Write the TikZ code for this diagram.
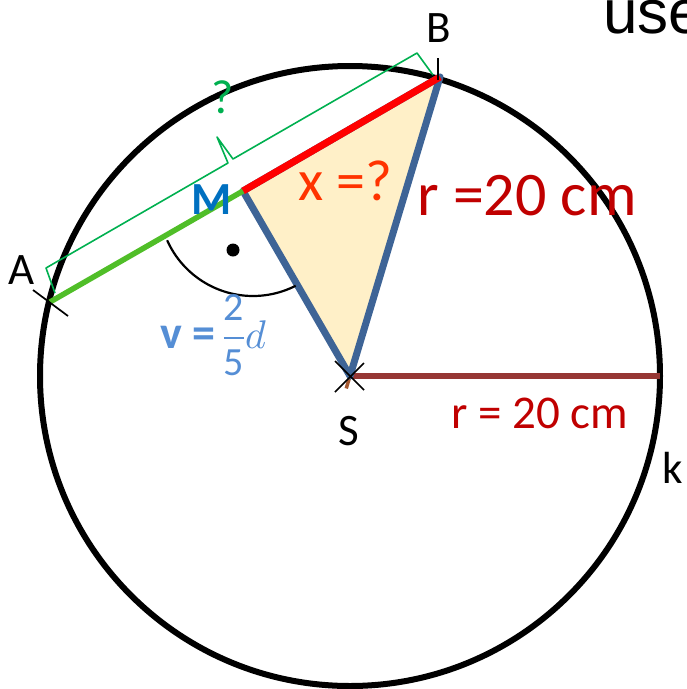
\documentclass[tikz,border=0pt]{standalone}
\usepackage{fontspec}
\usepackage{unicode-math}
\setmainfont{Carlito}
\setmathfont{Latin Modern Math}
\newfontfamily\arialfont{Liberation Sans}
\usetikzlibrary{calc}
\definecolor{chordgreen}{RGB}{80,190,40}
\definecolor{bracegreen}{RGB}{0,176,80}
\definecolor{sideblue}{RGB}{62,100,150}
\definecolor{sidebrown}{RGB}{165,90,50}
\definecolor{radbrown}{RGB}{150,55,52}
\definecolor{darkred}{RGB}{192,0,0}
\definecolor{xred}{RGB}{255,51,0}
\definecolor{mblue}{RGB}{0,112,192}
\definecolor{vblue}{RGB}{85,142,213}
\definecolor{trifill}{RGB}{255,240,200}

\begin{document}
\begin{tikzpicture}[
    x=1pt, y=-1pt,
    line join=round
]

\tikzset{
    lbl/.style={
        anchor=base,
        inner sep=0pt,
        font=\fontsize{45}{54}\selectfont
    },
    tick/.style={
        black,
        line width=1.7pt
    }
}

\useasboundingbox (0,0) rectangle (687,689);

% points
\coordinate (S) at (350,376);
\coordinate (A) at (50,302);
\coordinate (B) at (440,77);
\coordinate (M) at (243,191);
\coordinate (R) at (660,376);

% circle k
\draw[line width=6pt] (S) circle[radius=310pt];

% radius to the right
\draw[radbrown,line width=6.5pt] (S)--(R);

% radius SB
\draw[sidebrown,line width=3.5pt,shift={(3.5,1)}]
($(S)!-13pt!(B)$)--(B);

% triangle
\filldraw[fill=trifill,draw=sideblue,line width=7pt]
(M)--(B)--(S)--cycle;

\draw[red,line width=7pt,shift={(-2,-3.5)}]
(M)--(B);

\draw[chordgreen,line width=5.5pt]
(A)--(M);

% brace over AB
\draw[bracegreen,line width=1.6pt]
(55,293)--(46,268)--(228,163)--(217,137)--(233,159)--(417,53)--(433,75);

% right angle at M
\coordinate (rc) at (253,202);
\draw[line width=2.2pt]
([shift={(204:94pt)}]rc) arc[start angle=204,end angle=297,radius=94pt];
\fill (233,250) circle[radius=6.5pt];

% ticks
\draw[tick] ($(A)+(-17,-12)$)--($(A)+(18,14)$);
\draw[tick] ($(B)+(-2,-19)$)--($(B)+(-2,3)$);
\draw[tick] ($(S)+(-15,-15)$)--($(S)+(14,14)$);
\draw[tick] ($(S)+(14,-13)$)--($(S)+(-15,16)$);

% labels
\node[lbl] (lA) at (22,284) {A};
\node[lbl] (lB) at (439,42) {B};
\node[lbl] (lS) at (349,445) {S};
\node[lbl] (lk) at (673,483) {k};
\node[lbl,bracegreen,font=\fontsize{48}{54}\selectfont] (lq) at (223,113) {?};
\node[lbl,mblue,font=\fontsize{46}{52}\selectfont\bfseries] (lM) at (212,214) {M};
\node[lbl,xred,font=\fontsize{58}{66}\selectfont] (lx) at (345,200) {x =?};
\node[lbl,darkred,font=\fontsize{62}{70}\selectfont] (lr1) at (527,215) {r =20 cm};
\node[lbl,darkred,font=\fontsize{47}{54}\selectfont] (lr2) at (540,428) {r = 20 cm};
\node[lbl,anchor=base west,vblue] (lv) at (160,348)
{{\fontsize{46}{50}\selectfont\bfseries v =}\,{\fontsize{40}{46}\selectfont$\displaystyle\frac{\mbox{2}}{\mbox{5}}d$}};
\node[lbl,anchor=base west,font=\fontsize{62}{70}\selectfont\arialfont] (luse) at (603,33) {use};

\end{tikzpicture}
\end{document}
